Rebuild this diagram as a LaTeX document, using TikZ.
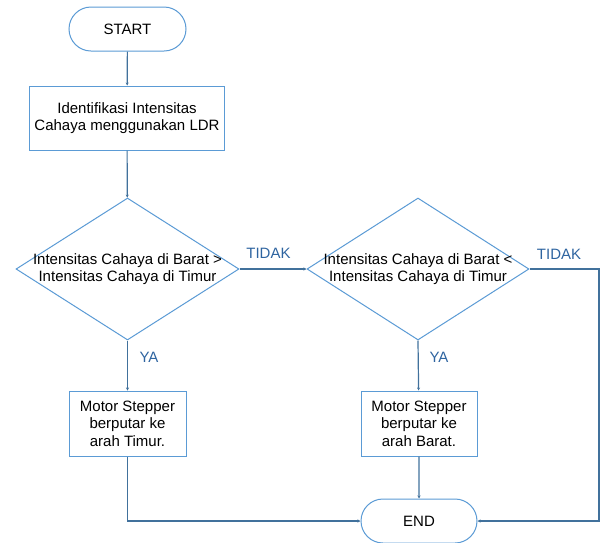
\documentclass[tikz,border=0pt]{standalone}
\usepackage{fontspec}
\setmainfont{Liberation Sans}
\usetikzlibrary{shapes.geometric,shapes.misc,arrows.meta}
\definecolor{shapeblue}{RGB}{91,155,213}
\definecolor{linkblue}{RGB}{65,113,156}
\definecolor{labelblue}{RGB}{46,100,160}
\tikzset{
  base/.style={draw=shapeblue, line width=1pt, fill=white, align=center, inner sep=0pt,
    font=\fontsize{15}{17.5}\selectfont},
  term/.style={base, rounded rectangle},
  procbox/.style={base, rectangle},
  decide/.style={base, diamond, aspect=1.57},
  link/.style={draw=linkblue, line width=1.2pt, -{Stealth[length=3pt,width=3pt]}},
  lbl/.style={text=labelblue, font=\fontsize{15}{17.5}\selectfont, inner sep=0pt},
}
\begin{document}
\begin{tikzpicture}[x=1pt,y=-1pt]
\useasboundingbox (0,0) rectangle (606,542);
\node[term, minimum width=117pt, minimum height=44pt] (start) at (127.5,29) {START};
\node[procbox, minimum width=195pt, minimum height=64pt] (ident) at (127,118) {Identifikasi Intensitas\\Cahaya menggunakan LDR};
\node[decide, minimum width=223pt, minimum height=142pt] (d1) at (127.5,269) {};
\node[base, draw=none, fill=none] (d1text) at (127.5,269) {Intensitas Cahaya di Barat >\\Intensitas Cahaya di Timur};
\node[decide, minimum width=222pt, minimum height=142pt] (d2) at (418,269) {};
\node[base, draw=none, fill=none] (d2text) at (418,269) {Intensitas Cahaya di Barat <\\Intensitas Cahaya di Timur};
\node[procbox, minimum width=117pt, minimum height=65pt] (timur) at (127.5,423.5) {Motor Stepper\\berputar ke\\arah Timur.};
\node[procbox, minimum width=116pt, minimum height=65pt] (barat) at (419,423.5) {Motor Stepper\\berputar ke\\arah Barat.};
\node[term, minimum width=116pt, minimum height=44pt] (end) at (419,521) {END};
\coordinate (corner) at (599,269);
\coordinate (cornerb) at (599,521);
\coordinate (cornert) at (127.5,521);

\draw[link] (start) -- (ident);
\draw[link] (ident) -- (d1);
\draw[link] (d1.east) -- (d2.west);
\draw[link] (d1.south) -- (timur);
\draw[link] (d2.south) -- (barat);
\draw[link] (barat) -- (end);
\draw[link] (timur.south) -- (cornert) -- (end.west);
\draw[link] (d2.east) -- (corner) -- (cornerb) -- (end.east);

\node[lbl] (t1) at (268.5,253) {TIDAK};
\node[lbl] (t2) at (559,254) {TIDAK};
\node[lbl] (y1) at (149,357) {YA};
\node[lbl] (y2) at (439,357) {YA};
\end{tikzpicture}
\end{document}
